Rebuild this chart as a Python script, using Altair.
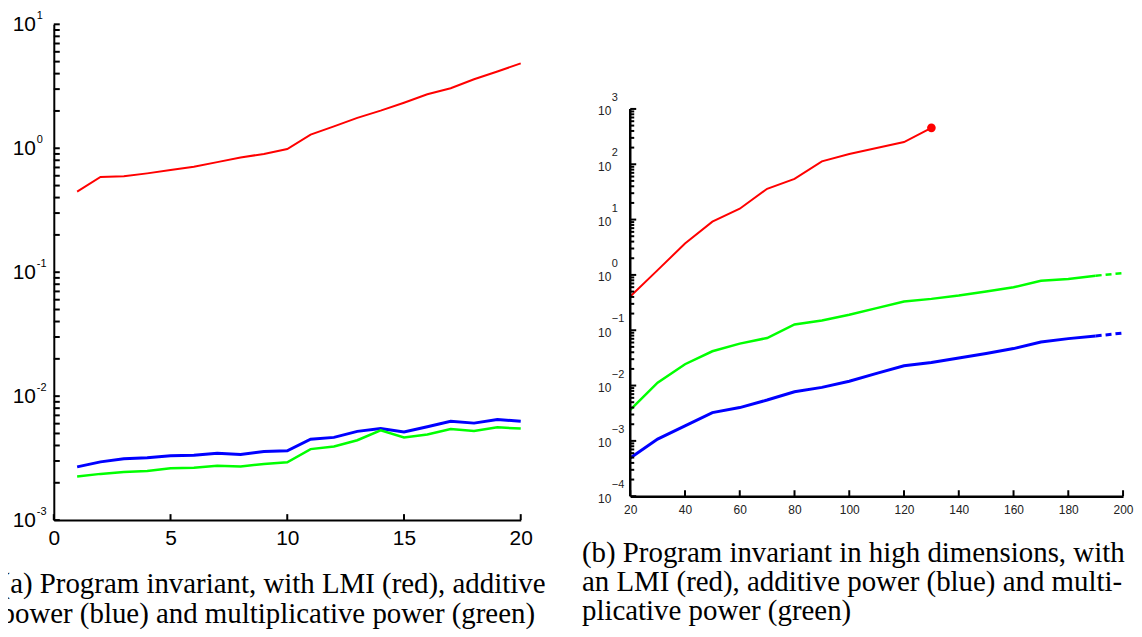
import altair as alt
import pandas as pd

# ---------------- data: panel (a) ----------------
a_x = list(range(1, 21))
a_red = [0.447, 0.586, 0.594, 0.627, 0.668, 0.71, 0.773, 0.843, 0.90, 0.986,
         1.29, 1.50, 1.76, 2.01, 2.33, 2.73, 3.05, 3.60, 4.16, 4.84]
a_blue = [0.00269, 0.00295, 0.00313, 0.00319, 0.00330, 0.00334, 0.00346, 0.00339, 0.00357, 0.00362,
          0.00450, 0.00465, 0.00520, 0.00548, 0.00514, 0.00567, 0.00627, 0.00606, 0.00647, 0.00627]
a_green = [0.00225, 0.00236, 0.00244, 0.00249, 0.00262, 0.00265, 0.00274, 0.00271, 0.00284, 0.00293,
           0.00374, 0.00392, 0.00441, 0.00531, 0.00465, 0.00491, 0.00542, 0.00524, 0.00560, 0.00548]
a_xticks = [0, 5, 10, 15, 20]
a_decades = [1e-3, 1e-2, 1e-1, 1.0, 10.0]
a_exponents = ["-3", "-2", "-1", "0", "1"]

# ---------------- data: panel (b) ----------------
b_x = list(range(20, 201, 10))
b_red_x = list(range(20, 131, 10))
b_red = [0.406, 1.22, 3.69, 9.18, 15.7, 36, 54.5, 113, 153, 196, 252, 455]
b_green = [0.00363, 0.01125, 0.0243, 0.0417, 0.0573, 0.0724, 0.127, 0.150, 0.190, 0.251,
           0.330, 0.369, 0.424, 0.500, 0.598, 0.787, 0.844, 0.968, 1.08]
b_blue = [0.000491, 0.00108, 0.00187, 0.00325, 0.0040, 0.00548, 0.00774, 0.00927, 0.0120, 0.0166,
          0.0228, 0.0261, 0.0316, 0.0379, 0.0466, 0.0614, 0.0705, 0.0787, 0.0891]
b_xticks = [20, 40, 60, 80, 100, 120, 140, 160, 180, 200]
b_decades = [1e-4, 1e-3, 1e-2, 1e-1, 1.0, 10.0, 100.0, 1000.0]
b_exponents = ["\u22124", "\u22123", "\u22122", "\u22121", "0", "1", "2", "3"]
b_dash_from = 190

CAPTION_A = ["(a) Program invariant, with LMI (red), additive",
             "power (blue) and multiplicative power (green)"]
CAPTION_B = ["(b) Program invariant in high dimensions, with",
             "an LMI (red), additive power (blue) and multi-",
             "plicative power (green)"]

RED, BLUE, GREEN = "#ff0000", "#0000ff", "#00ff00"

# ---------------- geometry ----------------
A_W, A_H = 469, 498
B_W, B_H, B_TOP = 495, 474, 85
SPACING = 110

a_minor = [m * 10.0 ** e for e in range(-3, 1) for m in range(2, 10)]
b_minor = [m * 10.0 ** e for e in range(-4, 3) for m in range(2, 10)]

NO_FRAME = alt.ViewBackground(stroke="transparent", strokeWidth=0, fill="white")


def df(xs, ys):
    return pd.DataFrame({"x": xs, "y": ys})


# ---------------- panel (a) ----------------
xa = alt.X("x:Q", scale=alt.Scale(domain=[0, 20], nice=False, zero=False),
           axis=alt.Axis(values=a_xticks, format="d", ticks=False, tickSize=0, grid=False,
                         domainColor="black", domainWidth=2, labelFont="Liberation Sans",
                         labelFontSize=21, labelColor="black", labelPadding=8,
                         labelFlush=False, labelOverlap=False, title=None))
ya = alt.Y("y:Q", scale=alt.Scale(type="log", domain=[1e-3, 10], nice=False),
           axis=alt.Axis(values=a_decades, labelExpr="'10'", ticks=False, tickSize=0, grid=False,
                         domainColor="black", domainWidth=2, labelFont="Liberation Sans",
                         labelFontSize=21, labelColor="black", labelPadding=18.5,
                         labelFlush=False, labelOverlap=False, title=None))

a_red_l = alt.Chart(df(a_x, a_red)).mark_line(color=RED, strokeWidth=2).encode(x=xa, y=ya)
a_blue_l = alt.Chart(df(a_x, a_blue)).mark_line(color=BLUE, strokeWidth=3).encode(x=xa, y=ya)
a_green_l = alt.Chart(df(a_x, a_green)).mark_line(color=GREEN, strokeWidth=2.5).encode(x=xa, y=ya)

a_yt = alt.Chart(pd.DataFrame({"y": a_decades + a_minor})).mark_tick(
    color="black", thickness=2, size=6, opacity=1).encode(x=alt.value(3), y=ya)
a_xt = alt.Chart(pd.DataFrame({"x": a_xticks})).mark_tick(
    color="black", thickness=2, size=6, opacity=1).encode(x=xa, y=alt.value(A_H - 3))
a_exp = alt.Chart(pd.DataFrame({"y": a_decades, "e": a_exponents})).mark_text(
    align="left", baseline="middle", font="Liberation Sans", fontSize=11, color="black",
    dy=-8.5).encode(x=alt.value(-17), y=ya, text="e:N")
a_cap = alt.Chart(pd.DataFrame({"k": [0]})).mark_text(
    text=CAPTION_A, lineHeight=30, align="left", baseline="alphabetic",
    font="Liberation Serif", fontSize=29, color="black").encode(
    x=alt.value(-53.5), y=alt.value(571))
a_marker = alt.Chart(pd.DataFrame({"k": [0]})).mark_rule(
    color="white", strokeWidth=0.1).encode(x=alt.value(-70), x2=alt.value(-69), y=alt.value(-30))

panel_a = alt.layer(a_red_l, a_blue_l, a_green_l, a_yt, a_xt, a_exp, a_cap, a_marker).properties(
    width=A_W, height=A_H, view=NO_FRAME)

# ---------------- panel (b) ----------------
xb = alt.X("x:Q", scale=alt.Scale(domain=[20, 200], nice=False, zero=False),
           axis=alt.Axis(values=b_xticks, format="d", ticks=False, tickSize=0, grid=False,
                         domainColor="black", domainWidth=2.5, labelFont="Liberation Sans",
                         labelFontSize=12, labelColor="#222", labelPadding=8,
                         labelFlush=False, labelOverlap=False, title=None))
yb = alt.Y("y:Q", scale=alt.Scale(type="log", domain=[1e-4, 1e3], nice=False, range=[B_H, B_TOP]),
           axis=alt.Axis(values=b_decades, labelExpr="'10'", ticks=False, tickSize=0, grid=False,
                         domain=False, labelFont="Liberation Sans",
                         labelFontSize=12, labelColor="#222", labelPadding=19.5, labelOffset=2,
                         labelFlush=False, labelOverlap=False, title=None))

red_df = df(b_red_x, b_red)
green_df = df(b_x, b_green)
blue_df = df(b_x, b_blue)

b_red_l = alt.Chart(red_df).mark_line(color=RED, strokeWidth=2).encode(x=xb, y=yb)
b_red_p = alt.Chart(red_df.tail(1)).mark_point(
    filled=True, color=RED, size=75, opacity=1).encode(x=xb, y=yb)
b_green_l = alt.Chart(green_df[green_df.x <= b_dash_from]).mark_line(
    color=GREEN, strokeWidth=2.5).encode(x=xb, y=yb)
b_green_d = alt.Chart(green_df[green_df.x >= b_dash_from]).mark_line(
    color=GREEN, strokeWidth=2.5, strokeDash=[6, 4]).encode(x=xb, y=yb)
b_blue_l = alt.Chart(blue_df[blue_df.x <= b_dash_from]).mark_line(
    color=BLUE, strokeWidth=3).encode(x=xb, y=yb)
b_blue_d = alt.Chart(blue_df[blue_df.x >= b_dash_from]).mark_line(
    color=BLUE, strokeWidth=3, strokeDash=[6, 4]).encode(x=xb, y=yb)

b_dom = alt.Chart(pd.DataFrame({"y": [b_decades[0]], "y2": [b_decades[-1]]})).mark_rule(
    color="black", strokeWidth=2.5).encode(x=alt.value(0), y=yb, y2="y2:Q")
b_ytM = alt.Chart(pd.DataFrame({"y": b_decades})).mark_tick(
    color="black", thickness=2, size=6, opacity=1).encode(x=alt.value(3), y=yb)
b_ytm = alt.Chart(pd.DataFrame({"y": b_minor})).mark_tick(
    color="black", thickness=2, size=4, opacity=1).encode(x=alt.value(2), y=yb)
b_xt = alt.Chart(pd.DataFrame({"x": b_xticks})).mark_tick(
    color="black", thickness=2, size=6, opacity=1).encode(x=xb, y=alt.value(B_H - 3))
b_exp = alt.Chart(pd.DataFrame({"y": b_decades, "e": b_exponents})).mark_text(
    align="left", baseline="middle", font="Liberation Sans", fontSize=11, color="#222",
    dy=-11).encode(x=alt.value(-18.5), y=yb, text="e:N")
b_cap = alt.Chart(pd.DataFrame({"k": [0]})).mark_text(
    text=CAPTION_B, lineHeight=29, align="left", baseline="alphabetic",
    font="Liberation Serif", fontSize=29, color="black").encode(
    x=alt.value(-48.5), y=alt.value(540))

panel_b = alt.layer(b_red_l, b_green_l, b_green_d, b_blue_l, b_blue_d, b_red_p,
                    b_dom, b_ytM, b_ytm, b_xt, b_exp, b_cap).properties(
    width=B_W, height=B_H, view=NO_FRAME)

chart = alt.hconcat(panel_a, panel_b, spacing=SPACING, bounds="flush").properties(
    padding={"left": -25, "top": -16, "right": 0, "bottom": 0}
).configure_view(strokeWidth=0, stroke="transparent", strokeOpacity=0).configure(background="white")

chart.save("out.html", embed_options={"renderer": "svg", "actions": False})
